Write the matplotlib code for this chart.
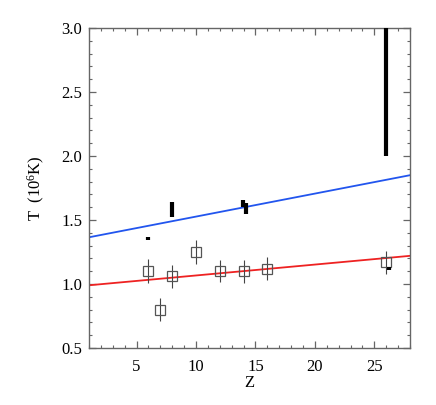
import matplotlib
matplotlib.use("Agg")
import matplotlib.pyplot as plt
from matplotlib.ticker import MultipleLocator, FormatStrFormatter

# Open squares with error bars
sq_z = [6, 7, 8, 10, 12, 14, 16, 26]
sq_t = [1.10, 0.80, 1.06, 1.25, 1.10, 1.10, 1.12, 1.17]
sq_err = [0.095, 0.09, 0.09, 0.09, 0.085, 0.09, 0.09, 0.09]

# Black ranges (vertical bars)
bar_z = [6, 8, 13.95, 14.2, 26, 26.25]
bar_lo = [1.345, 1.52, 1.60, 1.55, 2.0, 1.108]
bar_hi = [1.37, 1.64, 1.66, 1.63, 3.2, 1.133]

# Fit lines
line_z = [1, 28]
red_t = [0.99, 1.22]
blue_t = [1.365, 1.85]

plt.rcParams['font.family'] = ['Liberation Serif', 'DejaVu Serif']
plt.rcParams['mathtext.fontset'] = 'custom'
plt.rcParams['mathtext.rm'] = 'Liberation Serif'
plt.rcParams['mathtext.it'] = 'Liberation Serif:italic'

fig = plt.figure(figsize=(4.36, 4.05), dpi=100)
ax = fig.add_axes([89/436, 1-348/405, 321/436, 320/405])

ax.plot(line_z, blue_t, color='#2255ee', lw=1.3, zorder=2)
ax.plot(line_z, red_t, color='#ee2222', lw=1.3, zorder=2)

ax.errorbar(sq_z, sq_t, yerr=sq_err, fmt='s', mfc='none', mec='#555555',
            ms=6.8, mew=0.9, ecolor='#444444', elinewidth=0.8, capsize=0, zorder=3)

ax.vlines(bar_z, bar_lo, bar_hi, colors='black', lw=3.0, zorder=4)

ax.set_xlim(1, 28)
ax.set_ylim(0.5, 3.0)
ax.xaxis.set_major_locator(MultipleLocator(5))
ax.xaxis.set_minor_locator(MultipleLocator(1))
ax.yaxis.set_major_locator(MultipleLocator(0.5))
ax.yaxis.set_minor_locator(MultipleLocator(0.1))
ax.yaxis.set_major_formatter(FormatStrFormatter('%.1f'))

for s in ax.spines.values():
    s.set_color('#666666')
    s.set_linewidth(1.0)
ax.tick_params(which='both', direction='in', top=True, right=True, color='#666666', labelsize=12)
ax.tick_params(which='major', length=5, width=0.9)
ax.tick_params(which='minor', length=2.5, width=0.8)
ax.tick_params(axis='x', pad=8)
ax.tick_params(axis='y', pad=5)

ax.set_xlabel('Z', fontsize=12, labelpad=0)
ax.set_ylabel(r'T  (10$^{\mathregular{6}}$K)', fontsize=12, labelpad=10)

fig.savefig('out.png', dpi=100)
